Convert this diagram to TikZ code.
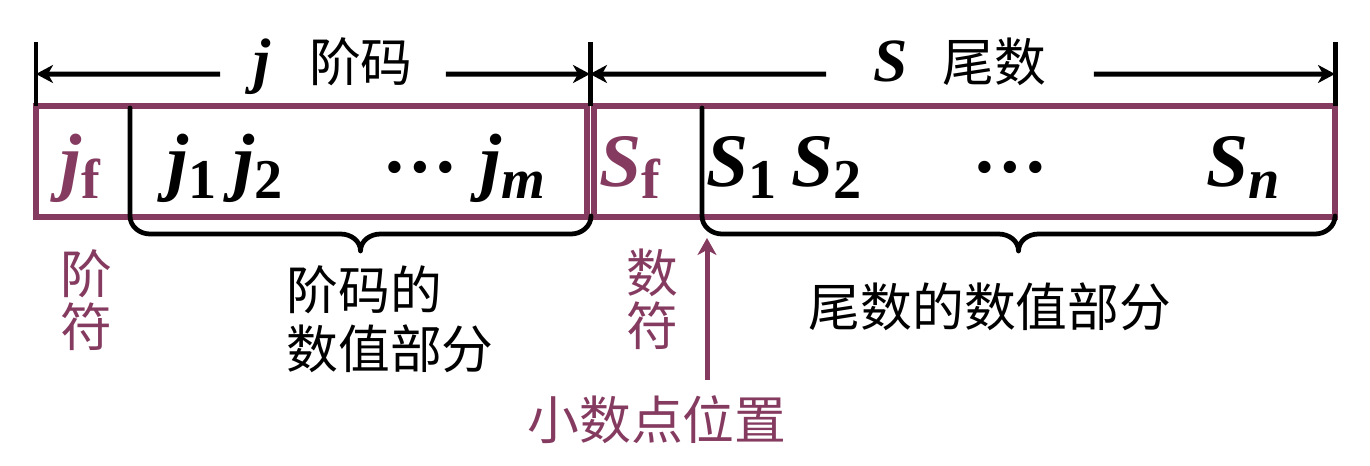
\documentclass[tikz,border=0pt]{standalone}
\usepackage{fontspec}
\setmainfont{Liberation Serif}
\newfontfamily\cjk{Noto Sans CJK SC}
\usetikzlibrary{arrows.meta}
\definecolor{sign-purple}{RGB}{133,59,96}
\tikzstyle{field}=[draw=sign-purple,line width=0.115cm]
\tikzstyle{tickline}=[black,line width=0.1cm]
\tikzstyle{dimline}=[black,line width=0.1cm,-{Stealth[length=0.34cm,width=0.36cm,inset=0.1cm]}]
\tikzstyle{dimlabel}=[anchor=base,inner sep=0pt,text height=9pt,text depth=0pt,font=\bfseries\fontsize{35}{35}\selectfont]
\tikzstyle{bracestyle}=[black,line width=0.095cm,line join=round,line cap=round]
\tikzstyle{pointarrow}=[sign-purple,line width=0.1cm,-{Stealth[length=0.34cm,width=0.38cm,inset=0.1cm]}]
\tikzstyle{symtext}=[anchor=base,inner sep=0pt,font=\bfseries\fontsize{43}{43}\selectfont]
\tikzstyle{cntext}=[inner sep=0pt,font=\cjk\fontsize{29.5}{30}\selectfont]
\newcommand{\fsym}[2]{\textit{#1}\raisebox{-6.5pt}{\fontsize{32}{32}\selectfont #2}}
\newcommand{\fdots}{\raisebox{8pt}{…}}
\newcommand{\fieldbrace}[2]{% #1 left x, #2 right x (in px)
  \pgfmathsetmacro{\bracemid}{(#1+#2)/2}
  \draw[bracestyle] (#1,108) -- (#1,216) to[out=-90,in=180] (#1+20,234) -- (\bracemid-20,234) to[out=0,in=90] (\bracemid,251) to[out=90,in=180] (\bracemid+20,234) -- (#2-20,234) to[out=0,in=-90] (#2,216);
}
\begin{document}
\begin{tikzpicture}[x=0.02cm,y=-0.02cm]
	\useasboundingbox (0,0) rectangle (1370,466);
	% the two fields
	\draw[field] (36,106) rectangle (587,217);
	\draw[field] (594,106) rectangle (1335,217);
	% dimension lines on top
	\foreach \x in {36,590,1335} {
		\draw[tickline] (\x,42) -- (\x,106);
	}
	\coordinate (jL) at (36,74);
	\coordinate (jR) at (590,74);
	\coordinate (sL) at (590,74);
	\coordinate (sR) at (1335,74);
	\node[dimlabel,minimum width=4.5cm] (jlab) at (333,82) {\textit{j}\hspace{22pt}{\cjk\mdseries\fontsize{29.5}{30}\selectfont 阶码}};
	\node[dimlabel,minimum width=5.34cm] (slab) at (960,82) {\textit{S}\hspace{20pt}{\cjk\mdseries\fontsize{29.5}{30}\selectfont 尾数}};
	\draw[dimline] (jlab) -- (jL);
	\draw[dimline] (jlab) -- (jR);
	\draw[dimline] (slab) -- (sL);
	\draw[dimline] (slab) -- (sR);
	% contents of the fields
	\node[symtext,sign-purple] (jf) at (80,187) {\fsym{j}{f}};
	\node[symtext] (j1) at (192,187) {\fsym{j}{1}};
	\node[symtext] (j2) at (258,187) {\fsym{j}{2}};
	\node[symtext] (jdots) at (420,187) {\fdots};
	\node[symtext] (jm) at (513,187) {\fsym{j}{\textit{m}}};
	\node[symtext,sign-purple] (sf) at (630,187) {\fsym{S}{f}};
	\node[symtext] (s1) at (742,187) {\fsym{S}{1}};
	\node[symtext] (s2) at (827,187) {\fsym{S}{2}};
	\node[symtext] (sdots) at (1010,187) {\fdots};
	\node[symtext] (sn) at (1243,187) {\fsym{S}{\textit{n}}};
	% braces under the value parts
	\fieldbrace{130}{591}
	\fieldbrace{702}{1335}
	% labels below
	\node[cntext,sign-purple,align=center] (jsign) at (86,300) {阶\\符};
	\node[cntext,align=left,anchor=west,font=\cjk\fontsize{29.5}{33.6}\selectfont] (jvalue) at (286,319) {阶码的\\数值部分};
	\node[cntext,sign-purple,align=center] (ssign) at (652,299) {数\\符};
	\node[cntext] (svalue) at (990,307) {尾数的数值部分};
	\node[cntext,sign-purple] (pointlab) at (657,420) {小数点位置};
	\coordinate (ptfoot) at (707,380);
	\coordinate (pttip) at (707,238);
	\draw[pointarrow] (ptfoot) -- (pttip);
\end{tikzpicture}
\end{document}
